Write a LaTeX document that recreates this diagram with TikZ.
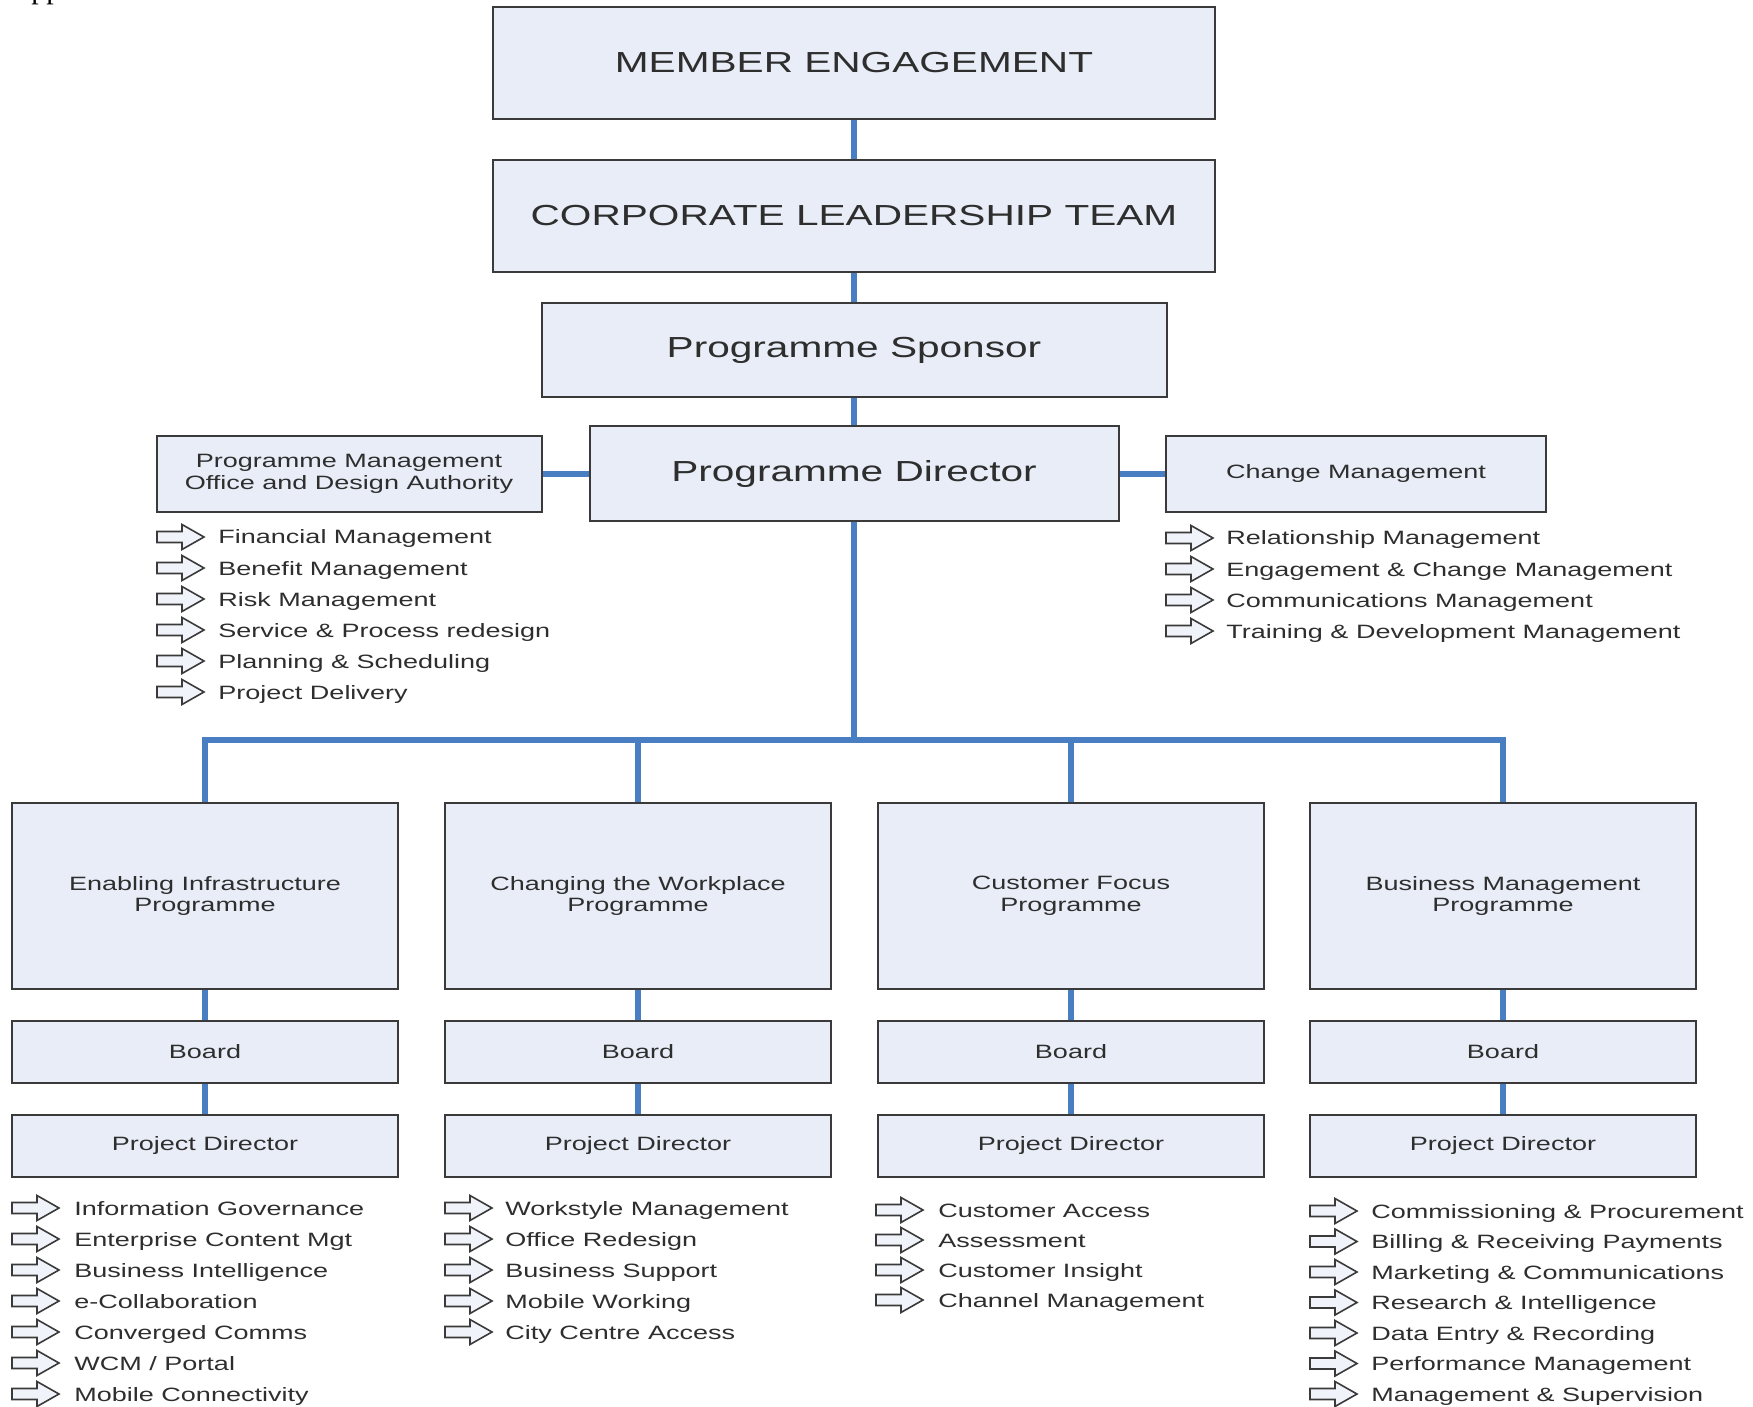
\documentclass[tikz,border=0pt]{standalone}
\usepackage{fontspec}
\setmainfont{Liberation Sans}[FakeStretch=1.4]
\newfontfamily\ppfont{Liberation Serif}
\definecolor{boxfill}{HTML}{E8EDF7}
\definecolor{boxline}{HTML}{3A3A3A}
\definecolor{conncol}{HTML}{4A7EC2}
\definecolor{txtcol}{HTML}{2E2E2E}
\definecolor{arrfill}{HTML}{F0F3F9}
\tikzset{
  box/.style={draw=boxline, line width=1pt, fill=boxfill, text=txtcol, inner sep=0pt, align=center},
  dims/.style 2 args={minimum width=#1*0.5pt, minimum height=#2*0.5pt},
  bigtxt/.style={font=\fontsize{14.5pt}{17pt}\selectfont},
  smalltxt/.style={font=\fontsize{9.65pt}{10.8pt}\selectfont},
  item/.style={smalltxt, text=txtcol, inner sep=0pt, anchor=base west},
  conn/.style={draw=conncol, line width=3pt},
  arrowicon/.style={draw=boxline, fill=arrfill, line width=0.8pt, line join=miter},
  listarrow/.pic={\path[arrowicon] (0,-5.5) -- (25,-5.5) -- (25,-12.5) -- (47,0) -- (25,12.5) -- (25,5.5) -- (0,5.5) -- cycle;}
}
\begin{document}
\begin{tikzpicture}[x=0.5pt, y=-0.5pt]
\useasboundingbox (0,0) rectangle (1753,1407);
\begin{scope}
\clip (0,0) rectangle (1753,1407);
\node[font={\ppfont\fontsize{15pt}{18pt}\selectfont}, anchor=base west, inner sep=0pt, text=black] (pp) at (31,-1.5) {pp};
\end{scope}

% top chain
\node[box, bigtxt, dims={722}{112}] (me) at (854,63) {MEMBER ENGAGEMENT};
\node[box, bigtxt, dims={722}{112}] (clt) at (854,216) {CORPORATE LEADERSHIP TEAM};
\node[box, bigtxt, dims={625}{94}] (ps) at (854,350) {Programme Sponsor};
\node[box, bigtxt, dims={529}{95}] (pd) at (854,474) {Programme Director};
\node[box, smalltxt, dims={385}{76}] (pmo) at (349,474) {Programme Management\\Office and Design Authority};
\node[box, smalltxt, dims={380}{76}] (cm) at (1356,474) {Change Management};

\draw[conn] (me.south) -- (clt.north);
\draw[conn] (clt.south) -- (ps.north);
\draw[conn] (ps.south) -- (pd.north);
\draw[conn] (pmo.east) -- (pd.west);
\draw[conn] (pd.east) -- (cm.west);

\coordinate (bus) at (854,740);
\draw[conn] (pd.south) -- (bus);

\foreach \cx/\nm/\ttl in {205/a/Enabling Infrastructure, 638/b/Changing the Workplace, 1071/c/Customer Focus, 1503/d/Business Management} {
  \node[box, smalltxt, dims={386}{186}] (prog\nm) at (\cx,896) {\ttl\\Programme};
  \node[box, smalltxt, dims={386}{62}] (board\nm) at (\cx,1052) {Board};
  \node[box, smalltxt, dims={386}{62}] (projd\nm) at (\cx,1146) {Project Director};
  \draw[conn] (prog\nm.south) -- (board\nm.north);
  \draw[conn] (board\nm.south) -- (projd\nm.north);
  \draw[conn] (prog\nm.north) |- (bus);
}

% PMO list
\foreach \t [count=\i] in {Financial Management, Benefit Management, Risk Management, Service \& Process redesign, Planning \& Scheduling, Project Delivery} {
  \pic at (157, {537+31*(\i-1)}) {listarrow};
  \node[item] (pmol\i) at (218, {544+31*(\i-1)}) {\t};
}
% Change management list
\foreach \t [count=\i] in {Relationship Management, Engagement \& Change Management, Communications Management, Training \& Development Management} {
  \pic at (1166, {538+31*(\i-1)}) {listarrow};
  \node[item] (cml\i) at (1226, {545+31*(\i-1)}) {\t};
}
% column lists
\foreach \t [count=\i] in {Information Governance, Enterprise Content Mgt, Business Intelligence, e-Collaboration, Converged Comms, WCM / Portal, Mobile Connectivity} {
  \pic at (12, {1208+31*(\i-1)}) {listarrow};
  \node[item] (la\i) at (74, {1215+31*(\i-1)}) {\t};
}
\foreach \t [count=\i] in {Workstyle Management, Office Redesign, Business Support, Mobile Working, City Centre Access} {
  \pic at (445, {1208+31*(\i-1)}) {listarrow};
  \node[item] (lb\i) at (505, {1215+31*(\i-1)}) {\t};
}
\foreach \t [count=\i] in {Customer Access, Assessment, Customer Insight, Channel Management} {
  \pic at (876, {1210+30*(\i-1)}) {listarrow};
  \node[item] (lc\i) at (938, {1217+30*(\i-1)}) {\t};
}
\foreach \t [count=\i] in {Commissioning \& Procurement, Billing \& Receiving Payments, Marketing \& Communications, Research \& Intelligence, Data Entry \& Recording, Performance Management, Management \& Supervision} {
  \pic at (1310, {1211+30.5*(\i-1)}) {listarrow};
  \node[item] (ld\i) at (1371, {1218+30.5*(\i-1)}) {\t};
}
\end{tikzpicture}
\end{document}
